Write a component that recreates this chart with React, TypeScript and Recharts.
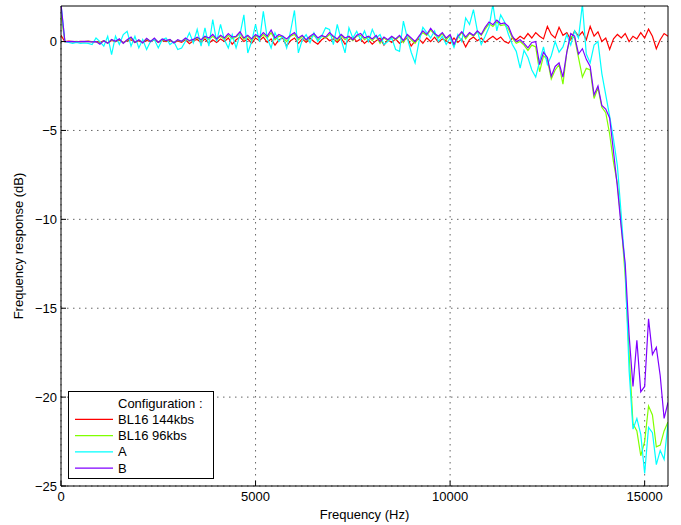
import { CartesianGrid, Legend, Line, LineChart, XAxis, YAxis } from "recharts";

const FONT = "'Liberation Sans', Arial, Helvetica, sans-serif";
const STEP_HZ = 100; // one sample every 100 Hz, 0 .. 15600

// BL16 144kbs
const bl16_144 = [
  0.35, 0.0, 0.02, 0.0, -0.02, 0.01, 0.0, 0.02, -0.01, 0.0,
  -0.05, 0.05, -0.08, 0.06, 0.0, 0.08, -0.05, 0.05, 0.1, -0.05,
  0.05, -0.06, 0.08, -0.02, 0.1, -0.04, 0.06, 0.0, 0.08, -0.06,
  0.04, -0.05, 0.1, -0.12, 0.05, 0.12, -0.05, 0.15, -0.1, 0.1,
  -0.05, 0.15, 0.0, 0.2, -0.15, 0.1, 0.25, 0.0, 0.15, -0.1,
  0.2, 0.05, 0.25, -0.05, 0.15, -0.2, 0.1, 0.2, -0.25, 0.05,
  0.2, -0.1, 0.15, -0.05, 0.2, 0.0, -0.15, 0.1, 0.25, 0.05,
  0.15, -0.05, 0.2, -0.15, 0.1, 0.25, 0.0, 0.15, -0.1, 0.1,
  -0.15, 0.05, 0.2, -0.2, 0.1, -0.05, 0.15, -0.1, 0.05, 0.2,
  -0.25, 0.05, 0.15, -0.1, 0.2, 0.0, 0.25, -0.05, 0.15, 0.05,
  -0.1, 0.2, -0.05, 0.15, -0.3, 0.1, 0.25, 0.05, 0.2, -0.05,
  0.15, 0.3, 0.1, 0.25, 0.0, -0.1, 0.2, 0.1, 0.3, 0.15,
  0.45, 0.2, 0.5, 0.3, 0.15, 0.85, 0.4, 0.2, 0.8, 0.35,
  0.5, 0.1, 0.6, 0.3, 0.55, 0.1, 0.85, 0.3, 0.55, 0.0,
  0.2, -0.45, 0.15, 0.4, 0.2, 0.45, 0.0, 0.3, 0.15, 0.5,
  0.2, 0.7, 0.3, -0.4, 0.1, 0.45, 0.3,
];

// BL16 96kbs
const bl16_96 = [
  1.5, 0.0, 0.0, 0.0, 0.01, -0.01, 0.0, 0.01, 0.0, -0.01,
  -0.1, 0.04, -0.08, 0.1, 0.0, 0.12, -0.08, 0.08, 0.2, -0.04,
  0.08, -0.06, 0.15, 0.0, 0.16, -0.04, 0.12, 0.04, 0.1, -0.06,
  0.08, 0.0, 0.16, 0.02, 0.1, 0.2, 0.06, 0.25, 0.12, 0.3,
  0.1, 0.3, 0.12, 0.35, 0.15, 0.25, 0.45, 0.12, 0.3, 0.05,
  0.35, 0.18, 0.4, 0.2, 0.5, 0.1, 0.3, 0.25, 0.0, 0.3,
  0.4, 0.1, 0.3, 0.05, 0.25, 0.35, 0.1, 0.3, 0.2, 0.4,
  0.25, 0.05, 0.35, 0.1, 0.25, 0.05, 0.3, 0.35, 0.1, 0.25,
  0.05, 0.3, -0.1, 0.2, 0.05, 0.25, 0.1, 0.3, -0.05, 0.35,
  0.1, -0.1, 0.25, 0.5, 0.35, 0.65, 0.4, 0.2, 0.45, 0.1,
  0.35, -0.25, 0.2, 0.5, 0.15, 0.45, 0.3, 0.55, 0.35, 0.7,
  1.0, 0.85, 1.1, 0.9, 0.95, 0.7, 0.2, -0.1, 0.0, -0.2,
  -0.5, -0.2, -0.3, -1.7, -0.8, -1.0, -2.1, -1.6, -1.3, -2.4,
  -0.6, 0.3, 0.2, -0.9, -2.0, -1.5, -1.6, -3.2, -2.6, -3.7,
  -4.0, -5.2, -6.8, -8.0, -10.3, -13.2, -17.5, -21.5, -21.9, -23.3,
  -22.5, -20.5, -21.0, -22.8, -22.7, -21.9, -21.4,
];

// A
const confA = [
  2.1, 0.0, -0.05, -0.1, -0.05, -0.1, -0.08, -0.1, -0.17, 0.2,
  0.0, -0.26, 0.3, -0.73, 0.3, -0.17, 0.39, 0.58, -0.26, 0.3,
  -0.36, 0.11, -0.45, 0.0, 0.11, -0.36, 0.1, 0.2, -0.17, 0.0,
  -0.45, -0.36, 0.02, 0.49, -0.07, 0.68, -0.26, 0.77, -0.26, 1.24,
  0.0, 0.96, 0.1, -0.36, 0.39, -0.36, 0.39, 1.5, -0.64, 0.0,
  0.96, 0.0, 1.7, 0.2, -0.36, 0.49, 0.0, 0.3, -0.36, 0.58,
  1.75, -0.64, 0.1, 0.39, -0.07, 0.49, 0.0, 0.3, 0.77, 0.68,
  -0.17, 0.96, 0.1, -0.64, 0.77, 0.2, 0.58, 0.1, 0.6, 0.0,
  0.68, 0.2, 0.4, -0.17, 0.0, 0.2, -0.45, -0.55, 1.15, 0.2,
  -0.6, -1.2, 0.0, 0.8, 0.5, 0.2, 0.6, 0.0, 0.3, -0.17,
  0.2, -0.33, 0.4, 0.0, 1.33, 0.96, 1.8, 0.6, -0.17, 0.3,
  0.8, 2.1, 0.6, 1.5, 1.1, 0.4, -0.17, -0.55, -1.5, -0.5,
  -0.9, -1.6, -2.0, -1.1, -0.3, -1.3, -0.8, 0.0, -0.6, -0.3,
  0.4, -0.2, 0.6, 0.2, 2.1, -0.7, -1.2, -0.2, 0.0, -1.8,
  -3.0, -4.2, -5.5, -7.0, -9.8, -12.8, -18.5, -21.8, -21.2, -22.1,
  -24.3, -21.7, -22.0, -23.8, -23.0, -23.5, -21.5,
];

// B
const confB = [
  2.1, 0.0, 0.0, 0.01, -0.01, 0.0, 0.01, 0.0, -0.02, 0.0,
  -0.15, 0.05, -0.1, 0.12, 0.02, 0.15, -0.1, 0.1, 0.25, -0.05,
  0.1, -0.08, 0.18, 0.0, 0.2, -0.05, 0.15, 0.05, 0.12, -0.08,
  0.1, 0.02, 0.2, 0.05, 0.12, 0.25, 0.1, 0.3, 0.2, 0.4,
  0.15, 0.35, 0.2, 0.45, 0.25, 0.3, 0.55, 0.2, 0.35, 0.15,
  0.4, 0.25, 0.5, 0.3, 0.65, 0.2, 0.4, 0.3, 0.15, 0.35,
  0.5, 0.2, 0.35, 0.1, 0.3, 0.45, 0.2, 0.35, 0.25, 0.5,
  0.3, 0.15, 0.4, 0.2, 0.3, 0.1, 0.35, 0.45, 0.2, 0.3,
  0.15, 0.35, 0.0, 0.25, 0.1, 0.3, 0.15, 0.35, 0.05, 0.4,
  0.2, 0.0, 0.3, 0.6, 0.4, 0.75, 0.45, 0.3, 0.5, 0.2,
  0.4, -0.15, 0.3, 0.55, 0.25, 0.5, 0.35, 0.6, 0.4, 0.8,
  1.1, 0.95, 1.2, 1.0, 1.05, 0.85, 0.3, 0.0, 0.1, -0.1,
  -0.35, -0.05, 0.0, -1.3, -0.6, -0.9, -1.95, -1.4, -1.2, -2.0,
  -0.6, 0.45, 0.3, -0.7, -0.4, -1.0, -1.4, -3.0, -2.5, -3.6,
  -3.8, -4.3, -6.2, -8.2, -10.5, -12.5, -16.5, -19.4, -16.8, -19.7,
  -19.4, -15.6, -17.6, -17.2, -18.8, -21.2, -20.3,
];

const seriesKeys = ["red", "green", "cyan", "purple"];
const seriesNames = ["BL16 144kbs", "BL16 96kbs", "A", "B"];
const seriesColors = ["#ff0000", "#80ff00", "#00ffff", "#8000ff"];
const xTicks = [0, 5000, 10000, 15000];
const yTicks = [-25, -20, -15, -10, -5, 0];

const rows = confB.map((_, i) => ({
  f: i * STEP_HZ,
  red: bl16_144[i],
  green: bl16_96[i],
  cyan: confA[i],
  purple: confB[i],
}));

const minus = (v: number) => (v < 0 ? "\u2212" + Math.abs(v) : String(v));

const tickStyle = { fill: "#000", fontSize: 13, fontFamily: FONT };

// matlab-style boxed legend with a heading row
function ConfigLegend() {
  const rowH = 16.3;
  return (
    <svg width={146} height={88} style={{ display: "block" }}>
      <rect x={0.5} y={0.5} width={145} height={87} fill="#fff" stroke="#000" strokeWidth={1} />
      <text x={50} y={12 + 4.5} fontFamily={FONT} fontSize={13} fill="#000">
        Configuration :
      </text>
      {seriesNames.map((name, i) => {
        const cy = 12 + rowH * (i + 1);
        return (
          <g key={name}>
            <line x1={7} x2={45} y1={cy} y2={cy} stroke={seriesColors[i]} strokeWidth={1.2} />
            <text x={50} y={cy + 4.5} fontFamily={FONT} fontSize={13} fill="#000">
              {name}
            </text>
          </g>
        );
      })}
    </svg>
  );
}

export default function App() {
  return (
    <div style={{ position: "absolute", left: 0, top: 0, background: "#fff" }}>
      <LineChart width={681} height={525} data={rows} margin={{ top: 5, right: 12, left: 0, bottom: 0 }}>
        <CartesianGrid
          xAxisId="b"
          yAxisId="l"
          stroke="#666"
          strokeDasharray="1.5 4.5"
          verticalValues={xTicks}
          horizontalValues={yTicks}
        />
        <XAxis
          xAxisId="b"
          dataKey="f"
          type="number"
          domain={[0, 15600]}
          ticks={xTicks}
          allowDataOverflow
          height={39}
          stroke="#000"
          tickSize={-5}
          tickMargin={11}
          tick={tickStyle}
          label={{ value: "Frequency (Hz)", position: "insideBottom", offset: 6, style: { fill: "#000", fontSize: 13, fontFamily: FONT } }}
        />
        <XAxis
          xAxisId="t"
          orientation="top"
          dataKey="f"
          type="number"
          domain={[0, 15600]}
          ticks={xTicks}
          allowDataOverflow
          height={1}
          stroke="#000"
          tickSize={-5}
          tick={false}
        />
        <YAxis
          yAxisId="l"
          type="number"
          domain={[-25, 2]}
          ticks={yTicks}
          allowDataOverflow
          width={61}
          stroke="#000"
          tickSize={-5}
          tickMargin={9}
          tick={tickStyle}
          tickFormatter={minus}
          label={{
            value: "Frequency response (dB)",
            angle: -90,
            position: "insideLeft",
            offset: 18,
            style: { textAnchor: "middle", fill: "#000", fontSize: 13, fontFamily: FONT },
          }}
        />
        <YAxis
          yAxisId="r"
          orientation="right"
          type="number"
          domain={[-25, 2]}
          ticks={yTicks}
          allowDataOverflow
          width={1}
          stroke="#000"
          tickSize={-5}
          tick={false}
        />
        <Legend
          layout="vertical"
          align="center"
          verticalAlign="middle"
          content={<ConfigLegend />}
          wrapperStyle={{ left: 68, top: 391, width: 146, height: 88 }}
        />
        {seriesKeys.map((key, i) => (
          <Line
            key={key}
            xAxisId="b"
            yAxisId="l"
            dataKey={key}
            name={seriesNames[i]}
            stroke={seriesColors[i]}
            strokeWidth={1.2}
            dot={false}
            isAnimationActive={false}
          />
        ))}
      </LineChart>
    </div>
  );
}
